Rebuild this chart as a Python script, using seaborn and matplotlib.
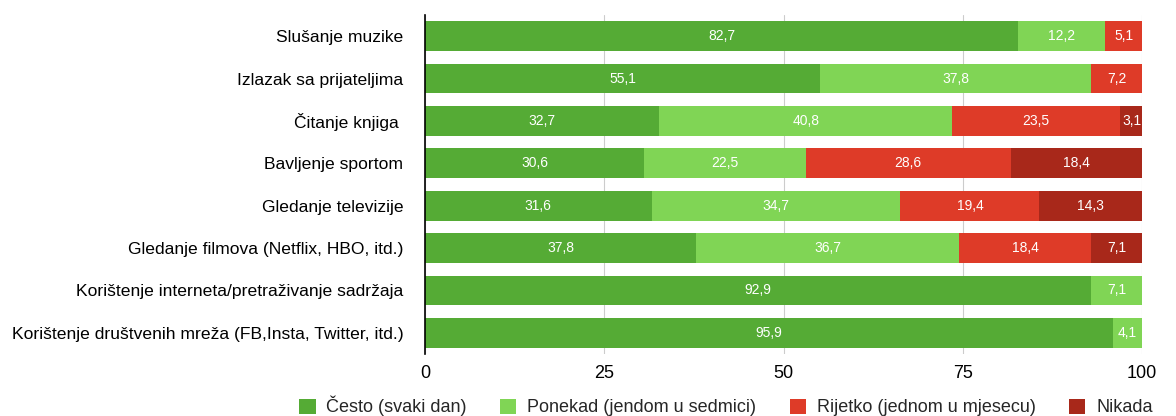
import numpy as np
import pandas as pd
import matplotlib
matplotlib.use("Agg")
import matplotlib.pyplot as plt
from matplotlib.patches import Patch
import seaborn as sns

categories = [
    "Slušanje muzike",
    "Izlazak sa prijateljima",
    "Čitanje knjiga ",
    "Bavljenje sportom",
    "Gledanje televizije",
    "Gledanje filmova (Netflix, HBO, itd.)",
    "Korištenje interneta/pretraživanje sadržaja",
    "Korištenje društvenih mreža (FB,Insta, Twitter, itd.)",
]
series_names = ["Često (svaki dan)", "Ponekad (jendom u sedmici)",
                "Rijetko (jednom u mjesecu)", "Nikada"]
often = [82.7, 55.1, 32.7, 30.6, 31.6, 37.8, 92.9, 95.9]
sometimes = [12.2, 37.8, 40.8, 22.5, 34.7, 36.7, 7.1, 4.1]
rarely = [5.1, 7.2, 23.5, 28.6, 19.4, 18.4, 0, 0]
never = [0, 0, 3.1, 18.4, 14.3, 7.1, 0, 0]
colors = ["#55ab35", "#80d555", "#de3b28", "#a8281a"]

sns.set_theme(style="white")
plt.rcParams["font.family"] = ["Liberation Sans", "DejaVu Sans"]

values = np.array([often, sometimes, rarely, never])
cum = values.cumsum(axis=0)

fig = plt.figure(figsize=(11.76, 4.16), dpi=100)
ax = fig.add_axes([425 / 1176, 1 - 354 / 416, 717 / 1176, 339 / 416])

# stacked bars drawn as overlaid cumulative totals, widest first
for i in range(3, -1, -1):
    df = pd.DataFrame({"cat": categories, "val": cum[i]})
    sns.barplot(data=df, x="val", y="cat", orient="h", color=colors[i],
                saturation=1, width=0.7, linewidth=0, ax=ax, zorder=2)

# value labels centred in each segment
for i in range(4):
    for j, cat in enumerate(categories):
        v = values[i, j]
        if v <= 0:
            continue
        center = cum[i, j] - v / 2
        ax.text(center, j, f"{v:.1f}".replace(".", ","), ha="center",
                va="center", color="white", fontsize=10, zorder=3,
                clip_on=True)

ax.set_xlim(0, 100)
ax.set_ylim(7.5, -0.5)
ax.set_xticks([0, 25, 50, 75, 100])
ax.xaxis.grid(True, color="#cccccc", linewidth=0.8, zorder=0)
ax.set_axisbelow(True)
ax.set_xlabel("")
ax.set_ylabel("")
ax.tick_params(axis="x", labelsize=13, length=0, pad=8, colors="black")
ax.tick_params(axis="y", labelsize=12.6, length=0, pad=15.5, colors="black")
for s in ["top", "right", "bottom"]:
    ax.spines[s].set_visible(False)
ax.spines["left"].set_color("black")
ax.spines["left"].set_linewidth(1.2)

handles = [Patch(facecolor=c, edgecolor="none") for c in colors]
fig.legend(handles, series_names, loc="center left", ncol=4, frameon=False,
           bbox_to_anchor=(283 / 1176, 1 - 406 / 416), fontsize=13,
           handlelength=0.9, handleheight=0.9, handletextpad=0.6,
           columnspacing=1.85)

fig.savefig("out.png", dpi=100)
